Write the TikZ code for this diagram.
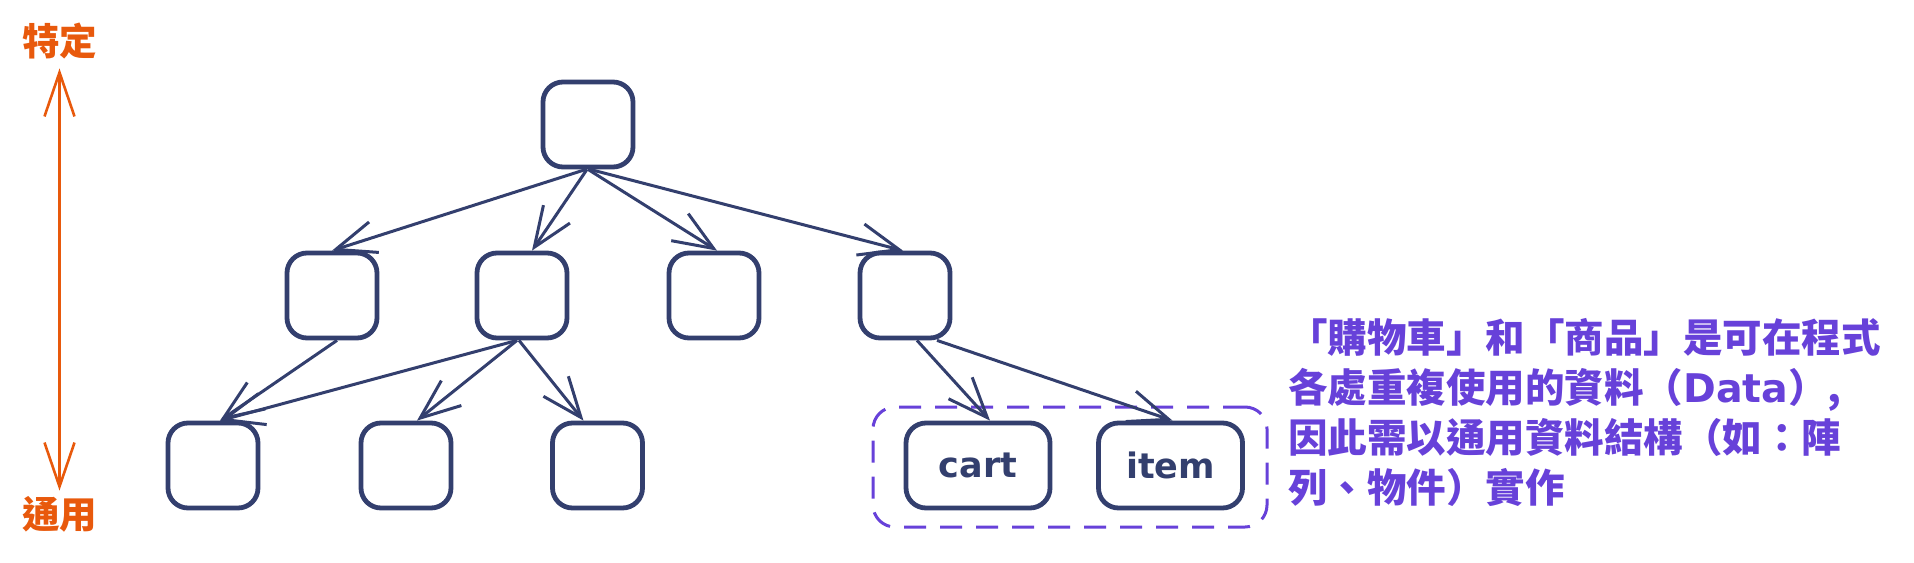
\documentclass[tikz,border=0pt]{standalone}
\usepackage{fontspec}
\newfontfamily\cjk{Noto Sans CJK TC}
\newfontfamily\latn{DejaVu Sans}
\usetikzlibrary{arrows.meta,calc}
\definecolor{navy}{HTML}{333F6E}
\definecolor{txtviolet}{HTML}{6741D9}
\definecolor{orng}{HTML}{E8590C}
\begin{document}
\begin{tikzpicture}[x=0.5pt,y=-0.5pt,
  box/.style={draw=navy, line width=2.4pt, rounded corners=10pt, minimum width=45pt, minimum height=42.5pt, inner sep=0pt},
  wbox/.style={box, minimum width=72pt},
  arr/.style={draw=navy, line width=1.5pt, -{Straight Barb[length=20pt,width=16pt]}},
  lbl/.style={text=navy, font=\latn\bfseries\fontsize{17.5pt}{22pt}\selectfont},
  note/.style={anchor=west, inner sep=0pt, text=txtviolet, text height=0.88em, text depth=0.12em, font=\cjk\bfseries\fontsize{19.75pt}{25pt}\selectfont},
  axis/.style={inner sep=0pt, text=orng, text height=0.88em, text depth=0.12em, font=\cjk\bfseries\fontsize{18.75pt}{22pt}\selectfont},
  grp/.style={draw=txtviolet, line width=1.5pt, dash pattern=on 11pt off 7pt, rounded corners=11pt, minimum width=197pt, minimum height=60pt, inner sep=0pt}
]
\useasboundingbox (0,0) rectangle (1914,562);

% left axis
\node[axis] (spec) at (59.5,48) {特定};
\node[axis] (gen) at (59.5,521) {通用};
\draw[orng, line width=1.3pt, {Straight Barb[length=22pt,width=15pt]}-{Straight Barb[length=22pt,width=15pt]}, shorten <=5pt, shorten >=10pt] (spec.south) -- (gen.north);

% tree
\node[box] (top) at (588,124.5) {};
\node[box] (n1) at (332,295.5) {};
\node[box] (n2) at (522,295.5) {};
\node[box] (n3) at (714,295.5) {};
\node[box] (n4) at (905,295.5) {};
\node[box] (m1) at (213,465.5) {};
\node[box] (m2) at (406,465.5) {};
\node[box] (m3) at (597.5,465.5) {};
\node[grp] (group) at (1070,467) {};
\node[wbox, lbl] (cart) at (978,465.5) {cart};
\node[wbox, lbl] (item) at (1170.5,465.5) {item};

\draw[arr] ($(top.south)+(-2,0)$) -- (n1.north);
\draw[arr] ($(top.south)+(-1,0)$) -- ($(n2.north)+(10,0)$);
\draw[arr] ($(top.south)+(0,0)$) -- ($(n3.north)+(3,0)$);
\draw[arr] ($(top.south)+(2,0)$) -- ($(n4.north)+(-2,0)$);

\draw[arr] ($(n1.south)+(5,0)$) -- ($(m1.north)+(7,0)$);
\draw[arr] ($(n2.south)+(-5,0)$) -- ($(m1.north)+(7,0)$);
\draw[arr] ($(n2.south)+(-5,0)$) -- ($(m2.north)+(11,0)$);
\draw[arr] ($(n2.south)+(-3,0)$) -- ($(m3.north)+(-14,0)$);

\draw[arr] ($(n4.south)+(12,0)$) -- ($(cart.north)+(12,0)$);
\draw[arr] ($(n4.south)+(32,0)$) -- ($(item.north)+(2,0)$);

% note
\node[note] (t1) at (1288,345) {「購物車」和「商品」是可在程式};
\node[note] (t2) at (1288,395) {各處重複使用的資料（{\latn\bfseries Data}）,};
\node[note] (t3) at (1288,445) {因此需以通用資料結構（如：陣};
\node[note] (t4) at (1288,495) {列、物件）實作};
\end{tikzpicture}
\end{document}
